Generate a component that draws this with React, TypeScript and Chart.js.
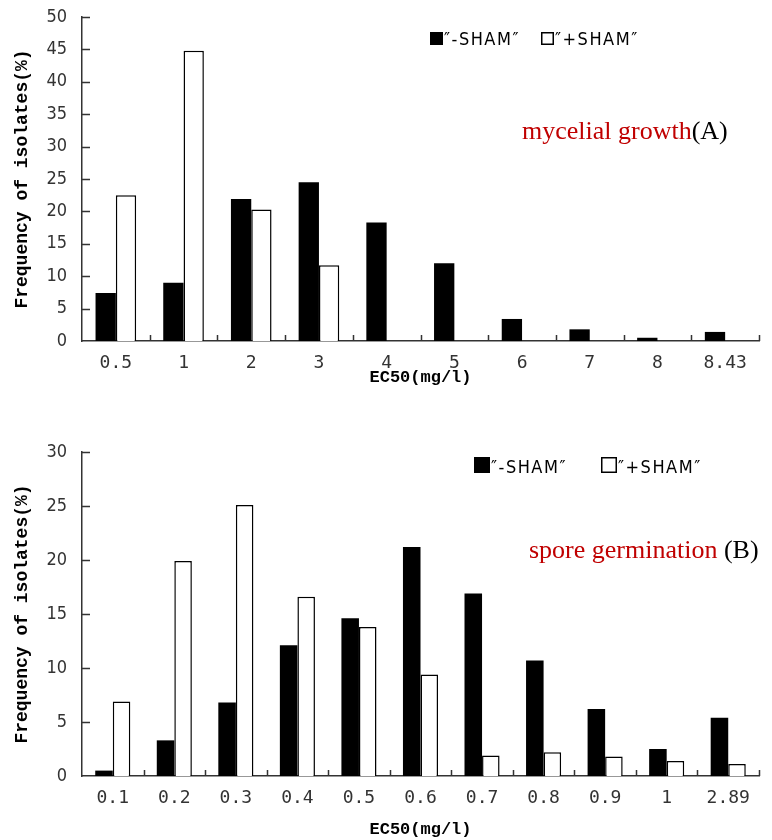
import React, { useEffect, useRef } from 'react';
import { Chart, registerables } from 'chart.js';

Chart.register(...registerables);

// ---- data ----
const catsA = ['0.5', '1', '2', '3', '4', '5', '6', '7', '8', '8.43'];
const minusA = [7.4, 9.0, 21.9, 24.5, 18.3, 12.0, 3.4, 1.8, 0.5, 1.4];
const plusA = [22.5, 44.8, 20.3, 11.7, 0, 0, 0, 0, 0, 0];

const catsB = ['0.1', '0.2', '0.3', '0.4', '0.5', '0.6', '0.7', '0.8', '0.9', '1', '2.89'];
const minusB = [0.5, 3.3, 6.8, 12.1, 14.6, 21.2, 16.9, 10.7, 6.2, 2.5, 5.4];
const plusB = [6.9, 19.9, 25.1, 16.6, 13.8, 9.4, 1.9, 2.2, 1.8, 1.4, 1.1];

const seriesLabels = ['″-SHAM″', '″+SHAM″'];
const yTitle = 'Frequency of isolates(%)';
const xTitle = 'EC50(mg/l)';
const noteA = [
  { text: 'mycelial growth', color: '#c00000' },
  { text: '(A)', color: '#000000' },
];
const noteB = [
  { text: 'spore germination ', color: '#c00000' },
  { text: '(B)', color: '#000000' },
];

const AXIS = '#333333';

const decorPlugin = {
  id: 'decor',
  afterDraw(chart: any, _args: any, opts: any) {
    const ctx = chart.ctx;
    const { left, bottom } = chart.chartArea;
    const xs = chart.scales.x;
    const ys = chart.scales.y;
    ctx.save();
    ctx.strokeStyle = AXIS;
    ctx.lineWidth = 1.5;
    ctx.beginPath();
    ys.ticks.forEach((t: any) => {
      if (t.value === 0) return;
      const py = Math.round(ys.getPixelForValue(t.value)) + 0.5;
      ctx.moveTo(left, py);
      ctx.lineTo(left + 8, py);
    });
    const n = chart.data.labels.length;
    const half = (xs.getPixelForValue(1) - xs.getPixelForValue(0)) / 2;
    for (let i = 0; i < n; i++) {
      const px = Math.round(xs.getPixelForValue(i) + half) + 0.5;
      ctx.moveTo(px, bottom);
      ctx.lineTo(px, bottom - 6);
    }
    ctx.stroke();

    // legend
    const lg = opts.legend;
    ctx.font = `${lg.fontSize}px 'DejaVu Sans Condensed'`;
    (ctx as any).letterSpacing = '1.5px';
    ctx.textBaseline = 'alphabetic';
    ctx.textAlign = 'left';
    chart.data.datasets.forEach((ds: any, i: number) => {
      const bx = lg.xs[i];
      ctx.fillStyle = ds.backgroundColor;
      ctx.fillRect(bx, lg.y, lg.box, lg.box);
      ctx.lineWidth = 1.5;
      ctx.strokeStyle = '#000';
      ctx.strokeRect(bx + 0.75, lg.y + 0.75, lg.box - 1.5, lg.box - 1.5);
      ctx.fillStyle = '#000';
      ctx.fillText(ds.label, bx + lg.box + 1, lg.y + lg.box);
    });
    (ctx as any).letterSpacing = '0px';

    // note
    const nt = opts.note;
    ctx.font = `26px 'Liberation Serif'`;
    let x = nt.x;
    nt.parts.forEach((p: any) => {
      ctx.fillStyle = p.color;
      ctx.fillText(p.text, x, nt.y);
      x += ctx.measureText(p.text).width;
    });
    ctx.restore();
  },
};

function makeConfig(
  cats: string[],
  minus: number[],
  plus: number[],
  yMax: number,
  catPct: number,
  pad: any,
  xHeight: number,
  decor: any
): any {
  return {
    type: 'bar',
    data: {
      labels: cats,
      datasets: [
        {
          label: seriesLabels[0],
          data: minus,
          backgroundColor: '#000000',
          borderColor: '#000000',
          borderWidth: 0,
          categoryPercentage: catPct,
          barPercentage: 1,
        },
        {
          label: seriesLabels[1],
          data: plus,
          backgroundColor: '#ffffff',
          borderColor: '#000000',
          borderWidth: 1.5,
          categoryPercentage: catPct,
          barPercentage: 1,
        },
      ],
    },
    options: {
      responsive: false,
      animation: false,
      devicePixelRatio: 1,
      layout: { padding: pad },
      plugins: {
        legend: { display: false },
        tooltip: { enabled: false },
        decor,
      },
      scales: {
        x: {
          grid: { display: false, drawTicks: false },
          border: { display: true, color: AXIS, width: 1.5 },
          ticks: {
            color: '#333',
            padding: 12,
            font: { family: "'DejaVu Sans Mono'", size: 18 },
            maxRotation: 0,
            autoSkip: false,
          },
          title: {
            display: true,
            text: xTitle,
            color: '#000',
            padding: 0,
            font: { family: "'Liberation Mono'", size: 17, weight: 'bold', lineHeight: 1.2 },
          },
          afterFit: (s: any) => {
            s.height = xHeight;
          },
        },
        y: {
          min: 0,
          max: yMax,
          grid: { display: false, drawTicks: false },
          border: { display: true, color: AXIS, width: 1.5 },
          ticks: {
            stepSize: 5,
            color: '#333',
            padding: 15,
            font: { family: "'DejaVu Sans Condensed'", size: 18 },
          },
          title: {
            display: true,
            text: yTitle,
            color: '#000',
            padding: { top: 12, bottom: 0 },
            font: { family: "'Liberation Mono'", size: 18, weight: 'bold', lineHeight: 1.2 },
          },
          afterFit: (s: any) => {
            s.width = 82;
            s.paddingTop = 0;
            s.paddingBottom = 0;
          },
        },
      },
    },
    plugins: [decorPlugin],
  };
}

export default function App() {
  const refA = useRef<HTMLCanvasElement>(null);
  const refB = useRef<HTMLCanvasElement>(null);

  useEffect(() => {
    const a = new Chart(
      refA.current as HTMLCanvasElement,
      makeConfig(catsA, minusA, plusA, 50, 0.6, { top: 17, right: 13, bottom: 22, left: 0 }, 47, {
        legend: { xs: [430, 541], y: 32, box: 13, fontSize: 18 },
        note: { x: 522, y: 139, parts: noteA },
      })
    );
    const b = new Chart(
      refB.current as HTMLCanvasElement,
      makeConfig(catsB, minusB, plusB, 30, 0.57, { top: 42, right: 13, bottom: 0, left: 0 }, 64, {
        legend: { xs: [474, 601], y: 47, box: 16, fontSize: 18 },
        note: { x: 529, y: 148, parts: noteB },
      })
    );
    return () => {
      a.destroy();
      b.destroy();
    };
  }, []);

  return (
    <div style={{ position: 'absolute', left: 0, top: 0, width: 772, height: 840, background: '#fff' }}>
      <canvas ref={refA} width={772} height={410} style={{ display: 'block' }} />
      <canvas ref={refB} width={772} height={430} style={{ display: 'block' }} />
    </div>
  );
}
